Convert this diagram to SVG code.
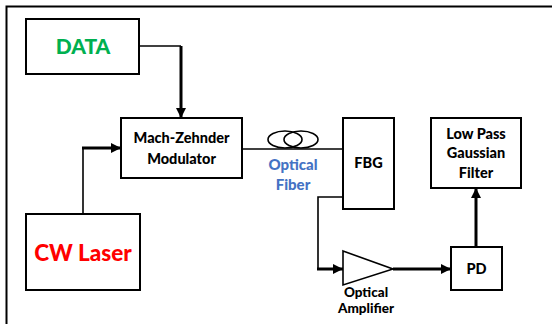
<svg xmlns="http://www.w3.org/2000/svg" width="552" height="324" viewBox="0 0 552 324">
<defs>
<style>
.box{fill:#fff;stroke:#000;stroke-width:2}
.t{font-family:Lato,"Open Sans","DejaVu Sans",sans-serif;font-weight:900;text-anchor:middle;fill:#000}
.thin{fill:none;stroke:#000;stroke-width:1.6}
.thick{fill:none;stroke:#000;stroke-width:3}
</style>
<marker id="ah" viewBox="0 0 10 10" refX="10" refY="5" markerWidth="3.4" markerHeight="3.4" markerUnits="strokeWidth" orient="auto">
<path d="M0,0 L10,5 L0,10 Z" fill="#000"/>
</marker>
</defs>
<rect width="552" height="324" fill="#fff"/>
<path d="M6.5,324 V6.5 H552" fill="none" stroke="#000" stroke-width="2"/>

<g id="connectors">
<path class="thin" d="M139,46 H181"/>
<path class="thick" d="M181,46 V118" marker-end="url(#ah)"/>
<path class="thin" d="M83,214 V148"/>
<path class="thick" d="M82,148 H121" marker-end="url(#ah)"/>
<path class="thin" d="M242,149 H343"/>
<path class="thin" d="M343,197 H318 V269"/>
<path class="thick" d="M317,269 H343" marker-end="url(#ah)"/>
<path class="thick" d="M393,269 H451" marker-end="url(#ah)"/>
<path class="thick" d="M476,247 V188" marker-end="url(#ah)"/>
</g>

<g id="data">
<rect class="box" x="26" y="19" width="113" height="55"/>
<text class="t" x="83" y="54" font-size="21" style="fill:#00b050">DATA</text>
</g>

<g id="mzm">
<rect class="box" x="121" y="118" width="121" height="60"/>
<text class="t" x="181.5" y="143" font-size="14.5">Mach-Zehnder</text>
<text class="t" x="181.5" y="164" font-size="14.5">Modulator</text>
</g>

<g id="cwlaser">
<rect class="box" x="26" y="214" width="114" height="76"/>
<text class="t" x="83" y="261" font-size="22.5" style="fill:#ff0000">CW Laser</text>
</g>

<g id="fiber">
<ellipse cx="285" cy="139.5" rx="17" ry="8.5" fill="none" stroke="#000" stroke-width="1.6"/>
<ellipse cx="301" cy="139.5" rx="17" ry="8.5" fill="none" stroke="#000" stroke-width="1.6"/>
<text class="t" x="293" y="170" font-size="15" style="fill:#4472c4">Optical</text>
<text class="t" x="293" y="190" font-size="15" style="fill:#4472c4">Fiber</text>
</g>

<g id="fbg">
<rect class="box" x="343" y="118" width="51" height="91"/>
<text class="t" x="368.5" y="168" font-size="14.5">FBG</text>
</g>

<g id="amplifier">
<polygon points="343,251 393,269 343,285" fill="#fff" stroke="#000" stroke-width="1.6"/>
<text class="t" x="366" y="297" font-size="13.5">Optical</text>
<text class="t" x="366" y="313" font-size="13.5">Amplifier</text>
</g>

<g id="pd">
<rect class="box" x="451" y="247" width="51" height="43"/>
<text class="t" x="476.5" y="274" font-size="14.5">PD</text>
</g>

<g id="filter">
<rect class="box" x="431" y="118" width="90" height="70"/>
<text class="t" x="476" y="139" font-size="14.5">Low Pass</text>
<text class="t" x="476" y="158" font-size="14.5">Gaussian</text>
<text class="t" x="476" y="178" font-size="14.5">Filter</text>
</g>
</svg>
